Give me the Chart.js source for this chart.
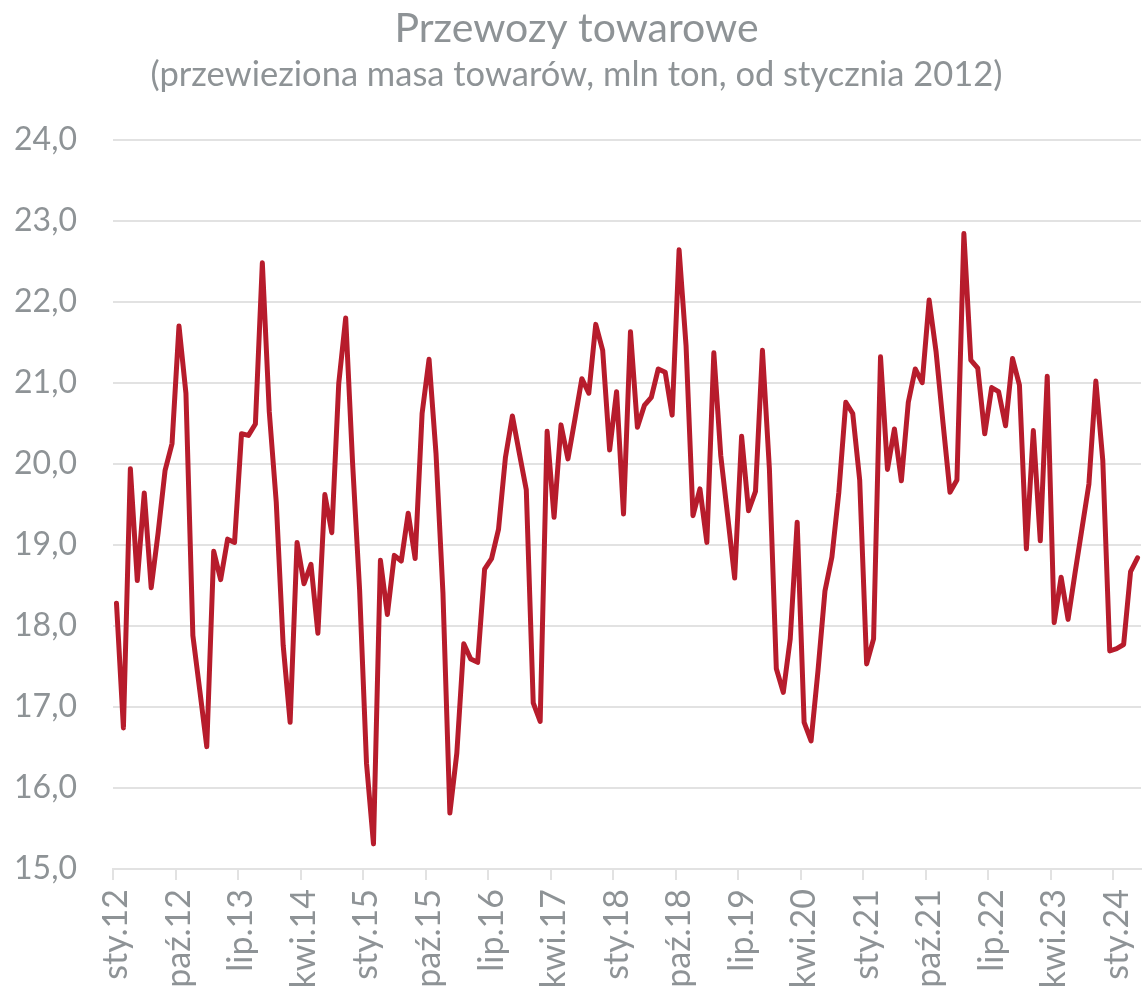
<!DOCTYPE html>
<html lang="pl">
<head>
<meta charset="utf-8">
<title>Przewozy towarowe</title>
<script src="https://cdn.jsdelivr.net/npm/chart.js@4/dist/chart.umd.min.js"></script>
<style>
    html, body { margin: 0; padding: 0; background: #ffffff; }
    #wrap { width: 1142px; height: 992px; }
</style>
</head>
<body>
<div id="wrap"><canvas id="freightChart" width="1142" height="992"></canvas></div>
<script>
// monthly series, Jan 2012 - Apr 2024 (mln ton)
const monthNames = ['sty', 'lut', 'mar', 'kwi', 'maj', 'cze', 'lip', 'sie', 'wrz', 'paź', 'lis', 'gru'];
const firstYear = 2012;
const labelStep = 9; // every 9th month gets a label
const yTicks = [15, 16, 17, 18, 19, 20, 21, 22, 23, 24];

const freight = [
    18.28, 16.74, 19.94, 18.56, 19.64, 18.47, 19.15, 19.92, 20.25, 21.70, 20.87, 17.88, // 2012
    17.20, 16.51, 18.92, 18.57, 19.07, 19.03, 20.37, 20.35, 20.49, 22.48, 20.64, 19.53, // 2013
    17.76, 16.81, 19.03, 18.52, 18.76, 17.91, 19.62, 19.15, 20.99, 21.80, 20.00, 18.45, // 2014
    16.30, 15.31, 18.81, 18.14, 18.87, 18.80, 19.39, 18.83, 20.62, 21.29, 20.13, 18.41, // 2015
    15.69, 16.43, 17.78, 17.59, 17.55, 18.70, 18.83, 19.19, 20.08, 20.59, 20.13, 19.68, // 2016
    17.05, 16.82, 20.40, 19.34, 20.48, 20.06, 20.55, 21.05, 20.87, 21.72, 21.40, 20.17, // 2017
    20.89, 19.38, 21.63, 20.45, 20.72, 20.82, 21.17, 21.13, 20.60, 22.64, 21.46, 19.36, // 2018
    19.69, 19.03, 21.37, 20.10, 19.35, 18.59, 20.34, 19.42, 19.66, 21.40, 19.94, 17.47, // 2019
    17.18, 17.84, 19.28, 16.81, 16.58, 17.45, 18.43, 18.85, 19.65, 20.76, 20.62, 19.80, // 2020
    17.53, 17.84, 21.32, 19.93, 20.43, 19.79, 20.76, 21.17, 21.00, 22.02, 21.38, 20.50, // 2021
    19.65, 19.80, 22.84, 21.28, 21.18, 20.37, 20.94, 20.89, 20.47, 21.30, 20.97, 18.95, // 2022
    20.41, 19.05, 21.08, 18.04, 18.60, 18.08, 18.65, 19.20, 19.75, 21.02, 20.04, 17.69, // 2023
    17.72, 17.77, 18.67, 18.84                                                          // 2024
];

const labels = freight.map((v, i) => {
    const yy = String((firstYear + Math.floor(i / 12)) % 100).padStart(2, '0');
    return monthNames[i % 12] + '.' + yy;
});

const textGrey = '#8e9396';
const gridGrey = '#e2e2e2';

function buildChart() {
    const ctx = document.getElementById('freightChart').getContext('2d');
    new Chart(ctx, {
        type: 'line',
        data: {
            labels: labels,
            datasets: [{
                label: 'Przewozy towarowe',
                data: freight,
                borderColor: '#b71c2c',
                borderWidth: 5,
                borderJoinStyle: 'round',
                borderCapStyle: 'round',
                pointRadius: 0,
                tension: 0,
                fill: false
            }]
        },
        options: {
            responsive: false,
            animation: false,
            devicePixelRatio: 1,
            layout: { padding: { left: 12, right: 1, top: 0, bottom: 0 } },
            plugins: {
                legend: { display: false },
                tooltip: { enabled: false },
                title: {
                    display: true,
                    text: 'Przewozy towarowe',
                    color: textGrey,
                    font: { family: 'Lato', size: 41, weight: 'normal' },
                    padding: { top: 4, bottom: 0 }
                },
                subtitle: {
                    display: true,
                    text: '(przewieziona masa towarów, mln ton, od stycznia 2012)',
                    color: textGrey,
                    font: { family: 'Lato', size: 34.5, weight: 'normal' },
                    padding: { top: 1, bottom: 44 }
                }
            },
            scales: {
                x: {
                    type: 'category',
                    offset: true,
                    afterFit: (scale) => {
                        scale.height = 123;
                        scale.paddingLeft = 0;
                        scale.paddingRight = 0;
                    },
                    grid: {
                        offset: true,
                        drawOnChartArea: false,
                        drawTicks: true,
                        tickLength: 11,
                        lineWidth: 2,
                        color: (c) => (c.index % labelStep === 0 ? gridGrey : 'rgba(0,0,0,0)')
                    },
                    border: { display: true, color: gridGrey, width: 2 },
                    ticks: {
                        autoSkip: false,
                        minRotation: 90,
                        maxRotation: 90,
                        padding: 9,
                        color: textGrey,
                        font: { family: 'Lato', size: 34 },
                        callback: function (value, index) {
                            return index % labelStep === 0 ? this.getLabelForValue(value) : '';
                        }
                    }
                },
                y: {
                    min: yTicks[0],
                    max: yTicks[yTicks.length - 1],
                    afterFit: (scale) => { scale.width = 101; },
                    afterBuildTicks: (scale) => { scale.ticks = yTicks.map(v => ({ value: v })); },
                    grid: {
                        color: gridGrey,
                        lineWidth: 2,
                        drawTicks: false
                    },
                    border: { display: false },
                    ticks: {
                        padding: 36,
                        color: textGrey,
                        font: { family: 'Lato', size: 32 },
                        callback: (v) => Number(v).toFixed(1).replace('.', ',')
                    }
                }
            }
        }
    });
}

document.fonts.load('32px Lato').then(buildChart, buildChart);
</script>
</body>
</html>
